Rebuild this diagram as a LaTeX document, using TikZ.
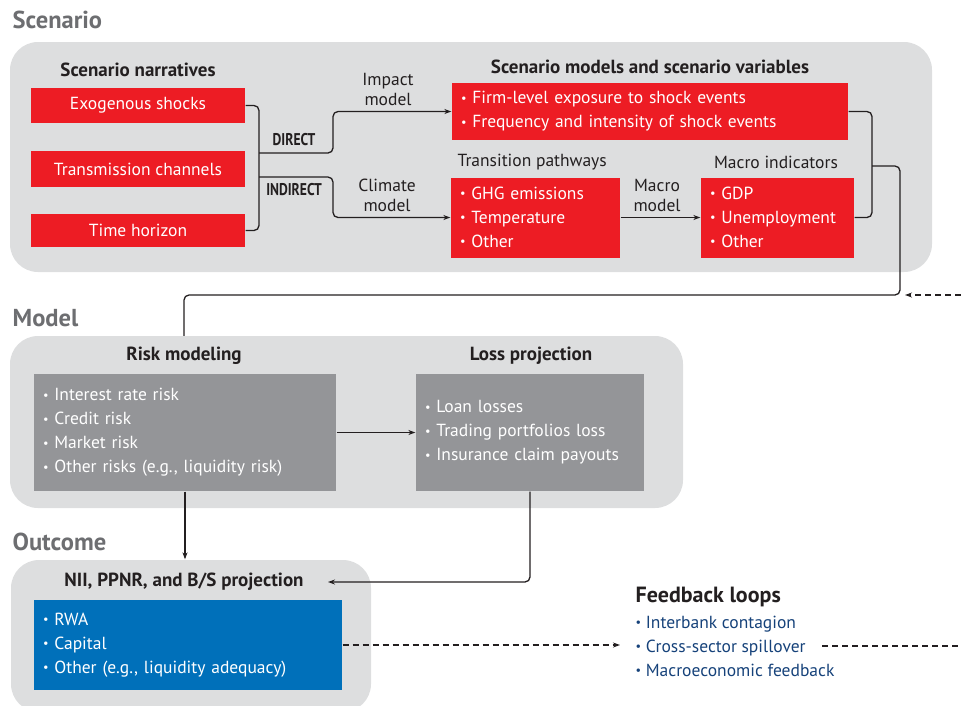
\documentclass[tikz,border=0pt]{standalone}
\usepackage{fontspec}
\setmainfont{PT Sans}
\newcommand*{\bodyfont}{\fontsize{17.5}{24}\selectfont}
\newcommand*{\pairfont}{\fontsize{17.5}{20}\selectfont}
\newcommand*{\headfont}{\fontsize{19}{22}\selectfont\bfseries}
\newcommand*{\sectfont}{\fontsize{24.5}{28}\selectfont\bfseries}
\newcommand*{\tagfont}{\fontsize{17}{20}\selectfont\bfseries}
\newcommand*{\bul}{\raisebox{0.2ex}{\scalebox{0.7}{\textbullet}}\ }
\definecolor{scenred}{RGB}{237,28,36}
\definecolor{outblue}{RGB}{0,112,186}
\definecolor{panelgrey}{RGB}{221,222,223}
\definecolor{boxgrey}{RGB}{148,149,152}
\definecolor{titlegrey}{RGB}{109,110,113}
\definecolor{ink}{RGB}{35,31,32}
\definecolor{navy}{RGB}{22,66,122}
\usetikzlibrary{arrows.meta}
\usetikzlibrary{positioning}
\tikzstyle{base}=[x=1pt, y=-1pt, line width=1.3pt, >={Stealth[length=7pt,width=5pt]}]
\tikzstyle{panel}=[fill=panelgrey, rounded corners=28pt, inner sep=0pt]
\tikzstyle{section}=[anchor=west, text=titlegrey, font=\sectfont, inner sep=0pt]
\tikzstyle{heading}=[text=ink, font=\headfont, inner sep=0pt]
\tikzstyle{redbox}=[fill=scenred, text=white, font=\bodyfont, inner sep=0pt]
\tikzstyle{listbox}=[text=white, font=\bodyfont, align=left, inner xsep=9pt, inner ysep=0pt]
\tikzstyle{modeltext}=[text=ink, font=\pairfont, align=center, inner sep=0pt]
\tikzstyle{pathtag}=[text=ink, font=\tagfont, inner sep=0pt]
\tikzstyle{link}=[draw=ink, rounded corners=5pt]
\tikzstyle{linkarrow}=[link, ->]
\tikzstyle{dashlink}=[draw=ink, dash pattern=on 6pt off 4pt]

\begin{document}
\begin{tikzpicture}[base]
    \useasboundingbox (0,0) rectangle (961,705);

    \node[section] (scenario) at (12,20) {Scenario};
    \node[panel, minimum width=922pt, minimum height=230pt] (scenpanel) at (471,157) {};

    \node[heading] (narrhead) at (138,70) {Scenario narratives};
    \node[redbox, minimum width=214pt, minimum height=35pt] (exo) at (138,105.5) {Exogenous shocks};
    \node[redbox, minimum width=214pt, minimum height=36pt] (trans) at (138,169) {Transmission channels};
    \node[redbox, minimum width=214pt, minimum height=33pt] (horizon) at (138,230.5) {Time horizon};

    \coordinate (bracket) at (259,169);
    \coordinate (direct) at (259,153);
    \coordinate (indirect) at (259,177);
    \draw[link] (exo.east) -| (bracket) |- (horizon.east);
    \node[pathtag] (directtag) at (294,140) {\scalebox{0.8}[1]{DIRECT}};
    \node[pathtag] (indirecttag) at (294,190) {\scalebox{0.8}[1]{INDIRECT}};
    \node[modeltext] (impact) at (388,89) {Impact\\model};
    \node[modeltext] (climate) at (387,195) {Climate\\model};

    \node[heading] (varhead) at (650,67) {Scenario models and scenario variables};
    \node[listbox, fill=scenred, text width=378pt, minimum height=57pt] (firm) at (650,111.5)
        {\bul Firm-level exposure to shock events\\ \bul Frequency and intensity of shock events};
    \draw[linkarrow] (direct) -- ++(74,0) |- (firm.west);

    \node[modeltext, anchor=west] (pathhead) at (457,162) {Transition pathways};
    \node[listbox, fill=scenred, text width=151pt, minimum height=80pt] (pathways) at (535.5,217.5)
        {\bul GHG emissions\\ \bul Temperature\\ \bul Other};
    \draw[linkarrow] (indirect) -- ++(74,0) |- (pathways.west);

    \node[modeltext] (macromodel) at (657,195) {Macro\\model};
    \node[modeltext] (indhead) at (776,162) {Macro indicators};
    \node[listbox, fill=scenred, text width=135pt, minimum height=80pt] (indicators) at (777.5,217.5)
        {\bul GDP\\ \bul Unemployment\\ \bul Other};
    \draw[linkarrow] (pathways.east) -- (indicators.west);

    \coordinate (join) at (872,166);
    \coordinate (loopcorner) at (900,295);
    \coordinate (modelin) at (184,336);
    \coordinate (feedin) at (961,295);
    \draw[link] (firm.east) -| (join) |- (indicators.east);
    \draw[link] (join) -| (loopcorner) -| (modelin);
    \draw[dashlink, ->, shorten >=5pt] (feedin) -- (loopcorner);

    \node[section] (model) at (12,318) {Model};
    \node[panel, minimum width=673pt, minimum height=172pt] (modelpanel) at (346.5,422) {};
    \node[heading] (riskhead) at (184,356) {Risk modeling};
    \node[listbox, fill=boxgrey, text width=284pt, minimum height=117pt] (risk) at (185,432.5)
        {\bul Interest rate risk\\ \bul Credit risk\\ \bul Market risk\\ \bul Other risks (e.g., liquidity risk)};
    \node[heading] (losshead) at (531,356) {Loss projection};
    \node[listbox, fill=boxgrey, text width=210pt, minimum height=117pt] (loss) at (530,432.5)
        {\bul Loan losses\\ \bul Trading portfolios loss\\ \bul Insurance claim payouts};
    \draw[linkarrow] (risk.east) -- (loss.west);

    \node[section] (outcome) at (12,542) {Outcome};
    \node[panel, minimum width=360pt, minimum height=152pt] (outpanel) at (191,636) {};
    \node[heading] (niihead) at (184,582) {NII, PPNR, and B/S projection};
    \node[listbox, fill=outblue, text width=290pt, minimum height=90pt] (balance) at (188,645)
        {\bul RWA\\ \bul Capital\\ \bul Other (e.g., liquidity adequacy)};
    \coordinate (niiin) at (328,582);
    \draw[linkarrow] (risk.south) -- (risk.south |- outpanel.north);
    \draw[linkarrow] (loss.south) |- (niiin);

    \node[heading, anchor=west, font=\fontsize{22}{24}\selectfont\bfseries] (fbhead) at (635,597) {Feedback loops};
    \node[text=navy, font=\bodyfont, align=left, inner sep=0pt, anchor=west] (fblist) at (635,646)
        {\bul Interbank contagion\\ \bul Cross-sector spillover\\ \bul Macroeconomic feedback};
    \coordinate (spillout) at (822,646);
    \coordinate (feedout) at (961,646);
    \draw[dashlink, ->, shorten >=15pt] (balance.east) -- (balance.east -| fblist.west);
    \draw[dashlink] (spillout) -- (feedout);
\end{tikzpicture}
\end{document}
